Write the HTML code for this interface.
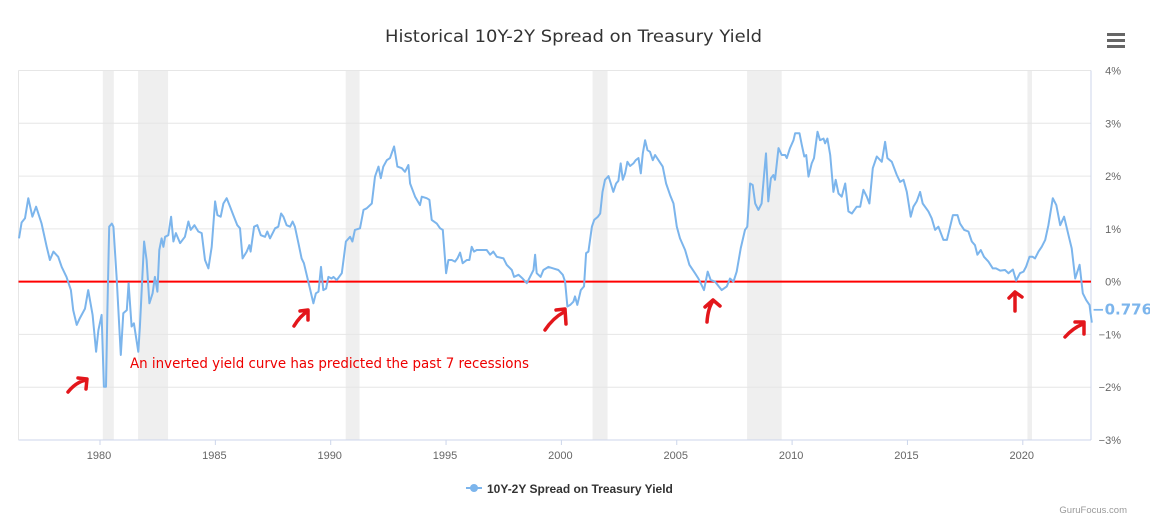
<!DOCTYPE html>
<html><head><meta charset="utf-8"><style>
html,body{margin:0;padding:0;background:#fff;width:1150px;height:532px;overflow:hidden}
svg{display:block;font-family:"Liberation Sans","DejaVu Sans",sans-serif}
</style></head><body>
<svg id="chart" width="1150" height="532" viewBox="0 0 1150 532">
<text x="385" y="42" textLength="377" lengthAdjust="spacingAndGlyphs" font-family="DejaVu Sans, sans-serif" font-size="17" fill="#333">Historical 10Y-2Y Spread on Treasury Yield</text>
<g>
<rect x="1107" y="33" width="18" height="3" fill="#666"/><rect x="1107" y="39" width="18" height="3" fill="#666"/><rect x="1107" y="45" width="18" height="3" fill="#666"/>
</g>
<g id="rec"></g>
<g id="grid"></g>
<g id="xax"></g>
<g id="yax"></g>
<line id="zero" stroke="#ff0000" stroke-width="2"/>
<path id="series" fill="none" stroke="#7cb5ec" stroke-width="2" stroke-linejoin="round"/>
<text id="lastlbl" font-family="DejaVu Sans, sans-serif" font-size="15" font-weight="bold" fill="#7cb5ec"></text>
<text x="130" y="368" textLength="399" lengthAdjust="spacingAndGlyphs" font-family="DejaVu Sans, sans-serif" font-size="14" fill="#ee0000">An inverted yield curve has predicted the past 7 recessions</text>
<g stroke="#e3161b" stroke-width="3.5" fill="none" stroke-linecap="round" stroke-linejoin="round">
<path d="M68 392 Q76 382 86 380 M78 378 L87 379 L86 389"/>
<path d="M294 326 Q300 316 308 311 M300 311 L308 310 L308 320"/>
<path d="M545 330 Q553 318 564 312 M556 310 L565 309 L566 324"/>
<path d="M707 322 Q708 308 713 301 M705 307 L713 300 L720 306"/>
<path d="M1015 311 L1015 293 M1009 298 L1015 292 L1022 297"/>
<path d="M1065 337 Q1073 328 1083 324 M1075 322 L1084 322 L1084 334"/>
</g>
<g>
<line x1="466" y1="488" x2="482" y2="488" stroke="#7cb5ec" stroke-width="2"/>
<circle cx="474" cy="488" r="4" fill="#7cb5ec"/>
<text x="487" y="493" font-size="12" font-weight="bold" fill="#333">10Y-2Y Spread on Treasury Yield</text>
</g>
<text x="1127" y="513" text-anchor="end" font-size="9.5" fill="#999">GuruFocus.com</text>
</svg>
<script>
const years=[1976.49,1976.60,1976.75,1976.89,1977.07,1977.23,1977.47,1977.69,1977.83,1977.98,1978.19,1978.34,1978.55,1978.74,1978.84,1978.99,1979.13,1979.35,1979.49,1979.68,1979.83,1979.93,1980.07,1980.17,1980.26,1980.32,1980.40,1980.51,1980.58,1980.72,1980.90,1981.01,1981.16,1981.24,1981.37,1981.47,1981.66,1981.73,1981.91,1982.02,1982.14,1982.28,1982.38,1982.49,1982.57,1982.67,1982.75,1982.82,1982.96,1983.08,1983.18,1983.29,1983.47,1983.68,1983.83,1983.93,1984.09,1984.26,1984.41,1984.55,1984.70,1984.84,1984.99,1985.09,1985.23,1985.35,1985.49,1985.64,1985.78,1985.95,1986.07,1986.18,1986.36,1986.47,1986.53,1986.68,1986.82,1986.97,1987.15,1987.25,1987.37,1987.59,1987.73,1987.85,1987.95,1988.09,1988.24,1988.35,1988.45,1988.60,1988.74,1988.84,1989.03,1989.25,1989.36,1989.47,1989.58,1989.68,1989.80,1989.90,1990.04,1990.12,1990.26,1990.48,1990.66,1990.84,1990.94,1991.05,1991.27,1991.42,1991.56,1991.78,1991.92,1992.07,1992.17,1992.28,1992.43,1992.57,1992.75,1992.89,1993.08,1993.22,1993.37,1993.44,1993.66,1993.87,1993.95,1994.16,1994.28,1994.38,1994.60,1994.74,1994.86,1995.00,1995.10,1995.25,1995.39,1995.49,1995.61,1995.72,1995.90,1996.01,1996.11,1996.21,1996.33,1996.55,1996.76,1996.91,1997.05,1997.20,1997.49,1997.63,1997.85,1997.95,1998.14,1998.32,1998.50,1998.64,1998.79,1998.86,1998.93,1999.10,1999.22,1999.44,1999.65,1999.87,2000.06,2000.16,2000.26,2000.38,2000.52,2000.59,2000.69,2000.84,2000.98,2001.07,2001.17,2001.32,2001.42,2001.58,2001.68,2001.78,2001.89,2002.04,2002.14,2002.25,2002.37,2002.47,2002.57,2002.66,2002.76,2002.86,2002.98,2003.12,2003.22,2003.34,2003.44,2003.53,2003.63,2003.73,2003.84,2003.96,2004.06,2004.21,2004.39,2004.54,2004.71,2004.86,2005.00,2005.14,2005.36,2005.55,2005.79,2005.94,2006.18,2006.34,2006.47,2006.66,2006.95,2007.17,2007.31,2007.46,2007.60,2007.77,2007.96,2008.06,2008.18,2008.29,2008.40,2008.54,2008.68,2008.79,2008.87,2008.97,2009.08,2009.19,2009.26,2009.41,2009.55,2009.70,2009.77,2009.91,2010.06,2010.13,2010.32,2010.42,2010.53,2010.61,2010.71,2010.85,2010.95,2011.10,2011.21,2011.36,2011.43,2011.53,2011.65,2011.79,2011.89,2012.01,2012.15,2012.30,2012.44,2012.59,2012.80,2012.95,2013.09,2013.24,2013.35,2013.50,2013.67,2013.89,2014.03,2014.13,2014.32,2014.54,2014.68,2014.83,2014.97,2015.14,2015.26,2015.40,2015.55,2015.66,2015.91,2016.05,2016.20,2016.34,2016.56,2016.71,2016.85,2016.97,2017.17,2017.28,2017.46,2017.64,2017.79,2017.93,2018.03,2018.18,2018.32,2018.51,2018.70,2018.84,2019.02,2019.23,2019.38,2019.57,2019.71,2019.88,2020.03,2020.14,2020.29,2020.43,2020.53,2020.68,2020.82,2020.97,2021.11,2021.30,2021.45,2021.62,2021.79,2021.98,2022.12,2022.27,2022.46,2022.60,2022.75,2022.89,2022.99];
const spread=[0.82,1.12,1.20,1.58,1.23,1.42,1.10,0.66,0.41,0.57,0.47,0.28,0.09,-0.16,-0.54,-0.82,-0.69,-0.51,-0.16,-0.63,-1.33,-0.92,-0.63,-1.99,-1.99,-0.54,1.04,1.10,1.04,0.09,-1.39,-0.60,-0.54,-0.03,-0.85,-0.79,-1.33,-0.85,0.76,0.41,-0.41,-0.22,0.09,-0.19,0.60,0.82,0.66,0.85,0.88,1.23,0.76,0.92,0.73,0.85,1.14,0.98,1.07,0.95,0.92,0.41,0.25,0.66,1.52,1.26,1.23,1.48,1.58,1.42,1.26,1.07,1.01,0.44,0.57,0.69,0.57,1.04,1.07,0.88,0.85,0.95,0.82,1.01,1.04,1.29,1.23,1.07,1.04,1.14,1.04,0.73,0.44,0.35,0.00,-0.41,-0.22,-0.19,0.28,-0.16,-0.13,0.09,0.06,0.09,0.03,0.16,0.76,0.85,0.76,0.98,1.01,1.36,1.39,1.48,1.99,2.18,1.96,2.18,2.30,2.34,2.56,2.18,2.15,2.08,2.21,1.86,1.61,1.45,1.61,1.58,1.55,1.17,1.10,1.01,0.98,0.16,0.41,0.41,0.38,0.44,0.55,0.35,0.41,0.41,0.66,0.57,0.60,0.60,0.60,0.51,0.57,0.47,0.44,0.32,0.22,0.09,0.13,0.06,-0.03,0.09,0.22,0.51,0.16,0.09,0.22,0.28,0.25,0.22,0.13,0.00,-0.47,-0.44,-0.38,-0.28,-0.44,-0.16,-0.09,0.54,0.57,1.04,1.17,1.23,1.29,1.70,1.93,2.00,1.86,1.70,1.86,1.91,2.24,1.93,2.05,2.27,2.19,2.24,2.30,2.34,2.05,2.43,2.68,2.49,2.46,2.30,2.40,2.30,2.18,1.86,1.64,1.48,1.04,0.82,0.60,0.32,0.16,0.06,-0.16,0.19,0.03,0.00,-0.16,-0.09,0.06,0.00,0.19,0.63,0.98,1.04,1.86,1.83,1.48,1.36,1.48,2.05,2.43,1.52,1.96,2.02,1.93,2.53,2.40,2.40,2.34,2.53,2.68,2.81,2.81,2.59,2.37,2.40,1.99,2.24,2.34,2.84,2.68,2.71,2.62,2.71,2.40,1.70,1.93,1.67,1.61,1.86,1.33,1.29,1.42,1.42,1.74,1.61,1.48,2.15,2.37,2.27,2.65,2.34,2.27,2.02,1.89,1.93,1.70,1.23,1.42,1.52,1.70,1.48,1.33,1.20,0.98,1.04,0.79,0.79,1.04,1.26,1.26,1.10,0.98,0.95,0.76,0.69,0.51,0.60,0.47,0.38,0.25,0.25,0.21,0.22,0.16,0.23,0.02,0.16,0.19,0.28,0.47,0.47,0.44,0.57,0.66,0.79,1.07,1.58,1.45,1.07,1.23,0.88,0.63,0.06,0.32,-0.22,-0.35,-0.44,-0.776];
const recStart=[1980.12,1981.65,1990.65,2001.35,2008.05,2020.2];
const recEnd=[1980.6,1982.95,1991.25,2002.0,2009.55,2020.4];
const xTicks=[1980,1985,1990,1995,2000,2005,2010,2015,2020];
const yTicks=[-3,-2,-1,0,1,2,3,4];
const lastLabel="-0.776";

const L=18.5,R=1091,T=70.5,B=440;
const X=y=>100+(y-1980)*23.07;
const Y=v=>T+(4-v)*(B-T)/7;
const NS='http://www.w3.org/2000/svg';
function mk(tag,parent){const e=document.createElementNS(NS,tag);document.getElementById(parent).appendChild(e);return e;}

recStart.forEach((s,i)=>{const r=mk('rect','rec');


r.setAttribute('x',X(s));r.setAttribute('y',T);r.setAttribute('width',X(recEnd[i])-X(s));r.setAttribute('height',B-T);r.setAttribute('fill','#efefef');});

yTicks.forEach(v=>{const g=mk('line','grid');


g.setAttribute('x1',L);g.setAttribute('x2',R);g.setAttribute('y1',Y(v));g.setAttribute('y2',Y(v));g.setAttribute('stroke',v===-3?'#ccd6eb':'#e6e6e6');g.setAttribute('stroke-width','1');
const t=mk('text','yax');


t.setAttribute('x',1121);t.setAttribute('y',Y(v)+4);t.setAttribute('text-anchor','end');t.setAttribute('font-size','11');t.setAttribute('fill','#666');t.textContent=(v<0?'\u2212'+(-v):v)+'%';});
[L,R].forEach(x=>{const l=mk('line','grid');


l.setAttribute('x1',x);l.setAttribute('x2',x);l.setAttribute('y1',T);l.setAttribute('y2',B);l.setAttribute('stroke',x===R?'#ccd6eb':'#e6e6e6');});

xTicks.forEach(yr=>{const t=mk('text','xax');


t.setAttribute('x',X(yr)-1);t.setAttribute('y',459);t.setAttribute('text-anchor','middle');t.setAttribute('font-size','11');t.setAttribute('fill','#666');t.textContent=yr;
const tk=mk('line','xax');


tk.setAttribute('x1',X(yr));tk.setAttribute('x2',X(yr));tk.setAttribute('y1',B);tk.setAttribute('y2',B+5);tk.setAttribute('stroke','#ccd6eb');});

const z=document.getElementById('zero');
z.setAttribute('x1',L);z.setAttribute('x2',R);z.setAttribute('y1',Y(0));z.setAttribute('y2',Y(0));

document.getElementById('series').setAttribute('d',years.map((y,i)=>(i?'L':'M')+X(y).toFixed(1)+' '+Y(spread[i]).toFixed(1)).join(' '));
const ll=document.getElementById('lastlbl');
ll.setAttribute('x',1092);ll.setAttribute('y',Y(spread[spread.length-1])-8);ll.textContent=lastLabel.replace('-','\u2212');
</script>
</body></html>
